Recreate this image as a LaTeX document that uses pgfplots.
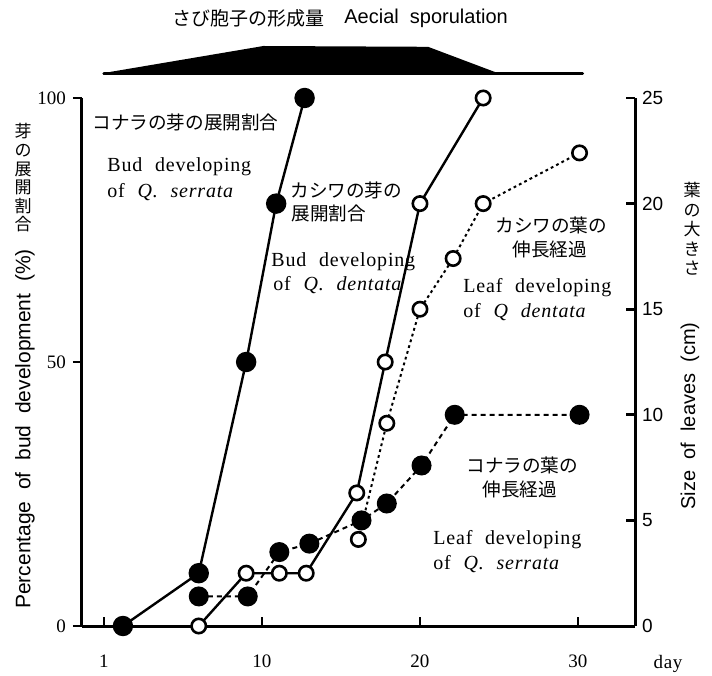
\documentclass[border=0pt]{standalone}
\usepackage{pgfplots}
\pgfplotsset{compat=1.18}
\usepackage{fontspec}
\setmainfont{Liberation Serif}
\setsansfont{Liberation Sans}
\newfontfamily\jp{Noto Sans CJK JP}
\newfontfamily\lab[LetterSpace=4,WordSpace=2.2]{Liberation Serif}
\newfontfamily\sflab[WordSpace=2]{Liberation Sans}

% position helper: (column, row) counted from the top-left corner of the figure
\newcommand\pp[2]{({(#1-82)*0.5pt},{(626-#2)*0.5pt})}

\pgfplotsset{
  base/.style={scale only axis, width=276.5pt, height=264pt,
    xmin=-1.39, xmax=33.61, clip=false,
    every tick/.style={black, line width=1.4pt},
    major tick length=4.5pt,
    /pgf/number format/assume math mode=true},
  plain lines/.style={
    axis line style={-, line width=1.5pt},
    every outer x axis line/.append style={-},
    every outer y axis line/.append style={-}},
}

\begin{document}
\begin{tikzpicture}
\path[use as bounding box] \pp{0}{675} rectangle \pp{712}{0};

% day axis
\begin{axis}[base, at={(0,0)}, anchor=south west, ymin=0, ymax=100,
  axis x line=bottom, axis y line=none, tick align=inside,
  xtick={0,10,20,30}, xticklabels={1,10,20,30},
  xticklabel style={font=\fontsize{9.5}{10}\selectfont, yshift=-11pt},
  plain lines]
\end{axis}

% bud development (%)
\begin{axis}[base, at={(0,0)}, anchor=south west, ymin=0, ymax=100,
  axis y line=left, axis x line=none, tick align=outside,
  ytick={0,50,100},
  yticklabel style={font=\fontsize{9.5}{10}\selectfont},
  plain lines]
% Quercus serrata buds
\addplot[line width=1.2pt, mark=*, mark size=4.5pt,
  mark options={solid, fill=black}] coordinates {
  (1.2,0) (6,10) (9,50) (10.9,80) (12.7,100)};
% Quercus dentata buds
\addplot[line width=1.2pt, mark=*, mark size=3.6pt,
  mark options={solid, fill=white, line width=1.3pt}] coordinates {
  (6,0) (9,10) (11.1,10) (12.8,10) (16,25.2) (17.8,50) (20,80) (24,100)};
\end{axis}

% leaf size (cm)
\begin{axis}[base, at={(0,0)}, anchor=south west, ymin=0, ymax=25,
  axis y line=right, axis x line=none, tick align=inside,
  ytick={0,5,10,15,20,25},
  yticklabel style={font=\sffamily\fontsize{9.5}{10}\selectfont},
  plain lines]
% Quercus serrata leaves
\addplot[line width=1pt, dash pattern=on 2.5pt off 2pt, mark=*, mark size=4.5pt,
  mark options={solid, fill=black}] coordinates {
  (6,1.4) (9.1,1.4) (11.1,3.5) (13,3.9) (16.3,5.0) (17.9,5.8) (20.1,7.6) (22.2,10) (30.1,10)};
% Quercus dentata leaves
\addplot[line width=1pt, dash pattern=on 1.4pt off 1.6pt, mark=*, mark size=3.6pt,
  mark options={solid, fill=white, line width=1.3pt}] coordinates {
  (16.1,4.1) (17.9,9.6) (20,15) (22.1,17.4) (24,20) (30.1,22.4)};
\end{axis}

% aecial sporulation band
\begin{axis}[at={(0pt,276pt)}, anchor=south west, scale only axis,
  width=276.5pt, height=13.5pt, xmin=-1.39, xmax=33.61, ymin=0, ymax=1,
  axis lines=none, clip=false]
\addplot[fill=black, draw=black, line width=1pt, line join=round] coordinates {
  (0,0) (10.1,1) (20.5,0.97) (24.9,0)} \closedcycle;
\addplot[line width=1.5pt, line cap=round] coordinates {(0,0) (30.3,0)};
\end{axis}

% titles and axis labels
\node[font=\jp\fontsize{9.5}{10}\selectfont] at \pp{248}{18} {さび胞子の形成量};
\node[anchor=west, inner sep=0pt, font=\sflab\fontsize{10}{12}\selectfont] at \pp{344}{18} {Aecial sporulation};

\node[align=center, font=\jp\fontsize{8.5}{9.3}\selectfont] at \pp{23}{178} {芽\\の\\展\\開\\割\\合};
\node[rotate=90, font=\sflab\fontsize{10.5}{12}\selectfont] at \pp{25}{429} {Percentage of bud development (\%)};

\node[align=center, font=\jp\fontsize{8.5}{9.8}\selectfont] at \pp{692}{229} {葉\\の\\大\\き\\さ};
\node[rotate=90, font=\sflab\fontsize{10}{12}\selectfont] at \pp{690}{416} {Size of leaves (cm)};

\node[font=\lab\fontsize{9.5}{10}\selectfont] at \pp{668}{664} {day};

% curve annotations
\begin{scope}[every node/.style={anchor=west, inner sep=0pt}]
\node[font=\jp\fontsize{9.3}{10}\selectfont] at \pp{92}{122} {コナラの芽の展開割合};
\node[font=\lab\fontsize{10}{12}\selectfont] at \pp{107}{167} {Bud developing};
\node[font=\lab\fontsize{10}{12}\selectfont] at \pp{107}{192} {of \textit{Q. serrata}};

\node[font=\jp\fontsize{9.3}{10}\selectfont] at \pp{290}{190} {カシワの芽の};
\node[font=\jp\fontsize{9.3}{10}\selectfont] at \pp{291}{213} {展開割合};
\node[font=\lab\fontsize{10}{12}\selectfont] at \pp{271}{262} {Bud developing};
\node[font=\lab\fontsize{10}{12}\selectfont] at \pp{273}{285} {of \textit{Q. dentata}};

\node[font=\jp\fontsize{9.3}{10}\selectfont] at \pp{495}{225} {カシワの葉の};
\node[font=\jp\fontsize{9.3}{10}\selectfont] at \pp{512}{249} {伸長経過};
\node[font=\lab\fontsize{10}{12}\selectfont] at \pp{463}{288} {Leaf developing};
\node[font=\lab\fontsize{10}{12}\selectfont] at \pp{463}{312} {of \textit{Q}\hspace{0.6em}\textit{dentata}};

\node[font=\jp\fontsize{9.3}{10}\selectfont] at \pp{466}{465} {コナラの葉の};
\node[font=\jp\fontsize{9.3}{10}\selectfont] at \pp{482}{489} {伸長経過};
\node[font=\lab\fontsize{10}{12}\selectfont] at \pp{433}{540} {Leaf developing};
\node[font=\lab\fontsize{10}{12}\selectfont] at \pp{433}{564} {of \textit{Q. serrata}};
\end{scope}
\end{tikzpicture}
\end{document}
